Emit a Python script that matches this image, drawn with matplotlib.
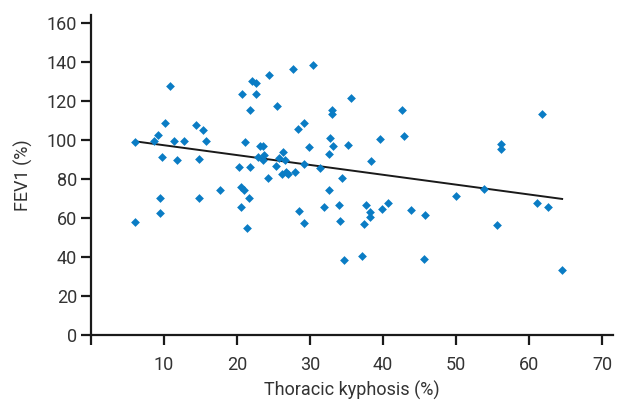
import numpy as np
import matplotlib
matplotlib.use('Agg')
import matplotlib.pyplot as plt

# thoracic kyphosis (%) vs FEV1 (%)
kyphosis = [6.1, 6.1, 8.7, 9.2, 9.8, 10.2, 10.9, 11.4, 11.8, 12.7,
            14.4, 15.4, 14.8, 15.7, 17.7, 20.7, 22.1, 22.6, 22.6, 21.8,
            24.4, 21.1, 20.3, 21.8, 23.2, 23.6, 22.9, 23.7, 23.5, 24.2,
            25.5, 25.4, 25.7, 26.3, 26.6, 26.1, 26.7, 27.0, 28.0, 27.7,
            28.4, 29.2, 29.8, 29.2, 30.4, 31.3, 28.5, 29.2, 9.4, 9.4,
            14.8, 20.5, 20.9, 21.6, 20.6, 21.4, 35.6, 33.0, 33.0, 42.6,
            61.8, 32.8, 33.2, 35.2, 39.6, 42.8, 32.6, 38.4, 56.2, 56.2,
            34.4, 32.6, 50.0, 53.8, 31.9, 33.9, 37.7, 38.2, 38.2, 39.9,
            40.7, 43.8, 45.8, 34.1, 37.4, 55.6, 61.1, 62.6, 34.7, 37.1,
            45.6, 64.5]
fev1 = [99.0, 57.9, 99.5, 102.6, 91.3, 108.7, 127.7, 99.5, 89.7, 99.5,
        107.7, 105.1, 90.3, 99.5, 74.4, 123.6, 130.3, 129.2, 123.6, 115.4,
        133.3, 99.0, 86.2, 86.2, 96.9, 96.9, 91.3, 92.0, 89.5, 80.5,
        117.4, 86.7, 90.8, 93.8, 89.7, 82.6, 83.6, 82.6, 83.6, 136.4,
        105.6, 108.7, 96.4, 87.7, 138.5, 85.6, 63.6, 57.4, 70.3, 62.6,
        70.3, 75.9, 74.4, 70.3, 65.6, 54.9, 121.5, 115.4, 113.3, 115.4,
        113.3, 101.0, 96.9, 97.4, 100.5, 102.1, 92.8, 89.2, 97.9, 95.4,
        80.5, 74.4, 71.3, 74.9, 65.6, 66.7, 66.7, 63.1, 60.5, 64.6,
        67.7, 64.1, 61.5, 58.5, 56.9, 56.4, 67.7, 65.6, 38.5, 40.5,
        39.0, 33.3]

x_ticks = [0, 10, 20, 30, 40, 50, 60, 70]
x_tick_labels = ['', '10', '20', '30', '40', '50', '60', '70']
y_ticks = [0, 20, 40, 60, 80, 100, 120, 140, 160]

plt.rcParams['font.family'] = ['Roboto', 'DejaVu Sans']

fig = plt.figure(figsize=(6.22, 4.01), dpi=100)
ax = fig.add_axes([0.146, 0.165, 0.84, 0.798])

x = np.array(kyphosis)
y = np.array(fev1)
ax.scatter(x, y, marker='D', s=20, color='#0a7cc4', linewidths=0, zorder=3)

# linear fit
slope, intercept = np.polyfit(x, y, 1)
fx = np.array([x.min(), x.max()])
ax.plot(fx, intercept + slope * fx, color='#1a1a1a', linewidth=1.4, zorder=2)

ax.set_xlim(0, 71.5)
ax.set_ylim(0, 164)
ax.set_xticks(x_ticks)
ax.set_xticklabels(x_tick_labels)
ax.set_yticks(y_ticks)

for s in ['top', 'right']:
    ax.spines[s].set_visible(False)
for s in ['left', 'bottom']:
    ax.spines[s].set_linewidth(1.6)
    ax.spines[s].set_color('#1a1a1a')

ax.tick_params(axis='both', direction='out', length=7, width=1.6, color='#1a1a1a',
               labelsize=13, labelcolor='#333333')
ax.tick_params(axis='x', pad=8)
ax.tick_params(axis='y', pad=3)

ax.set_xlabel('Thoracic kyphosis (%)', fontsize=13, color='#333333', labelpad=5)
ax.set_ylabel('FEV1 (%)', fontsize=13, color='#333333', labelpad=10)

fig.savefig('out.png', dpi=100)
